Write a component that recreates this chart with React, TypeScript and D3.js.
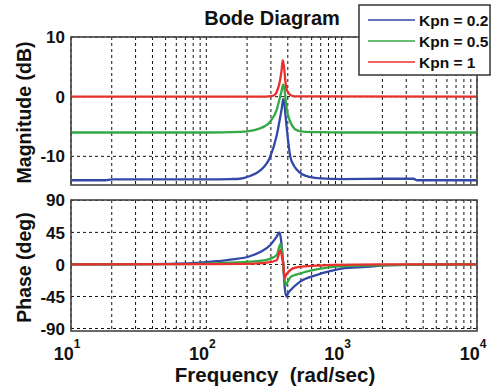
import React from "react";
import * as d3 from "d3";

// ---------- data ----------
const seriesLabels = ["Kpn = 0.2", "Kpn = 0.5", "Kpn = 1"];
const seriesColors = ["#3348a8", "#33a845", "#e8302c"];

// magnitude (dB)
const magFreqBlue = [10, 18, 20, 60, 100, 150, 177, 210, 249, 296, 331, 351, 362, 370, 377, 384, 394, 405, 417, 440, 465, 510, 590, 700, 1000, 2000, 3400, 3600, 10000];
const magBlue = [-14.0, -14.0, -13.85, -13.85, -13.85, -13.8, -13.75, -13.3, -12.4, -10.1, -6.5, -3.5, -1.8, -0.4, -1.0, -3.0, -5.5, -8.0, -10.0, -11.4, -12.2, -13.0, -13.5, -13.7, -13.8, -13.75, -13.75, -14.0, -14.0];

const magFreqGreen = [10, 100, 177, 249, 296, 331, 351, 362, 369, 377, 384, 394, 417, 465, 520, 700, 1000, 10000];
const magGreen = [-6.0, -6.0, -5.9, -5.3, -4.2, -2.2, 0.0, 1.2, 2.0, 1.4, -0.2, -2.2, -4.2, -5.6, -5.85, -5.95, -6.0, -6.0];

const magFreqRed = [10, 250, 300, 320, 331, 351, 360, 367, 375, 384, 394, 417, 450, 10000];
const magRed = [0, 0, 0.1, 0.3, 0.8, 2.8, 4.5, 6.1, 5.0, 2.5, 1.1, 0.3, 0.05, 0];

// phase (deg)
const phFreqBlue = [10, 30, 60, 90, 120, 157, 210, 250, 296, 331, 347, 355, 362, 370, 379, 390, 403, 420, 490, 650, 865, 1000, 1700, 1900, 3000, 10000];
const phBlue = [0, 0.3, 1, 2.5, 4.5, 7, 11.5, 17.5, 27, 39, 45, 37, 22, 0, -31, -45, -40, -36, -24.5, -15, -8.5, -6, -2.8, -1.5, -0.5, 0];

const phFreqGreen = [10, 50, 100, 150, 210, 279, 331, 353, 363, 370, 378, 386, 400, 420, 490, 650, 865, 1500, 3000, 10000];
const phGreen = [0, 0.3, 1, 2.5, 4, 6.5, 13, 29, 18, 0, -20, -29, -24, -17.5, -12.8, -7, -3.5, -1.5, -0.5, 0];

const phFreqRed = [10, 100, 200, 279, 331, 353, 363, 371, 378, 390, 404, 436, 490, 650, 865, 2000, 10000];
const phRed = [0, 0.3, 0.8, 2.4, 6, 20, 10, 0, -19.5, -14, -10.5, -5.6, -3.5, -1.7, -0.5, 0, 0];

const magTicks = [10, 0, -10];
const phaseTicks = [90, 45, 0, -45, -90];
const decadeExps = [1, 2, 3, 4];

// ---------- layout ----------
const W = 492, H = 392;
const X0 = 71, X1 = 477;
const MAG_TOP = 37, MAG_BOT = 185;
const PH_TOP = 200, PH_BOT = 331;
const FONT = "'Liberation Sans', Arial, sans-serif";

const x = d3.scaleLog().domain([10, 10000]).range([X0, X1]);
const yMag = d3.scaleLinear().domain([-14.8, 10]).range([MAG_BOT, MAG_TOP]);
const yPh = d3.scaleLinear().domain([-93.5, 90.5]).range([PH_BOT, PH_TOP]);

const gridFreqs: number[] = [];
[10, 100, 1000].forEach((d) => {
  for (let k = 1; k <= 9; k++) gridFreqs.push(d * k);
});
gridFreqs.push(10000);

function mkLine(y: d3.ScaleLinear<number, number>) {
  return d3
    .line<[number, number]>()
    .x((d) => x(d[0]))
    .y((d) => y(d[1]))
    .curve(d3.curveMonotoneX);
}

const magSeries: [number[], number[]][] = [
  [magFreqBlue, magBlue],
  [magFreqGreen, magGreen],
  [magFreqRed, magRed],
];
const phSeries: [number[], number[]][] = [
  [phFreqBlue, phBlue],
  [phFreqGreen, phGreen],
  [phFreqRed, phRed],
];

function Panel({ top, bot, y, ticks, series }: any) {
  const line = mkLine(y);
  return (
    <g>
      <rect x={X0} y={top} width={X1 - X0} height={bot - top} fill="#fff" />
      {gridFreqs.map((f, i) => (
        <line key={"v" + i} x1={x(f)} x2={x(f)} y1={top} y2={bot} stroke="#111" strokeWidth={1} strokeDasharray="3,3" />
      ))}
      {ticks.map((t: number, i: number) => (
        <line key={"h" + i} x1={X0} x2={X1} y1={y(t)} y2={y(t)} stroke="#111" strokeWidth={1} strokeDasharray="3,3" />
      ))}
      {series.map((s: [number[], number[]], i: number) => (
        <path
          key={"s" + i}
          d={line(s[0].map((f, j) => [f, s[1][j]] as [number, number])) || ""}
          fill="none"
          stroke={seriesColors[i]}
          strokeWidth={2.3}
          strokeLinejoin="round"
        />
      ))}
      <rect x={X0} y={top} width={X1 - X0} height={bot - top} fill="none" stroke="#444" strokeWidth={1.6} />
      {ticks.map((t: number, i: number) => (
        <text key={"t" + i} x={65} y={y(t)} dy="0.36em" textAnchor="end" fontSize={17} fontWeight="bold" fontFamily={FONT} fill="#111">
          {t}
        </text>
      ))}
    </g>
  );
}

export default function App() {
  return (
    <svg width={W} height={H} style={{ position: "absolute", left: 0, top: 0, background: "#fff" }}>
      <rect x={0} y={0} width={W} height={H} fill="#fff" />
      <text x={272} y={25} textAnchor="middle" fontSize={20} fontWeight="bold" fontFamily={FONT} fill="#111">
        Bode Diagram
      </text>
      <Panel top={MAG_TOP} bot={MAG_BOT} y={yMag} ticks={magTicks} series={magSeries} />
      <Panel top={PH_TOP} bot={PH_BOT} y={yPh} ticks={phaseTicks} series={phSeries} />

      <text transform={`translate(31,${(40 + 185) / 2}) rotate(-90)`} textAnchor="middle" fontSize={19.5} fontWeight="bold" fontFamily={FONT} fill="#111">
        Magnitude (dB)
      </text>
      <text transform={`translate(31,${(212 + 323) / 2}) rotate(-90)`} textAnchor="middle" fontSize={19.5} fontWeight="bold" fontFamily={FONT} fill="#111">
        Phase (deg)
      </text>

      {decadeExps.map((e) => (
        <text key={e} x={x(Math.pow(10, e)) - 4} y={360} textAnchor="middle" fontSize={18} fontWeight="bold" fontFamily={FONT} fill="#111">
          10
          <tspan fontSize={12} dy={-12}>{e}</tspan>
        </text>
      ))}
      <text x={275} y={382} textAnchor="middle" fontSize={20.5} fontWeight="bold" fontFamily={FONT} fill="#111" style={{ whiteSpace: "pre" }}>
        {"Frequency  (rad/sec)"}
      </text>

      {/* legend */}
      <g>
        <rect x={359} y={5} width={131} height={70} fill="#fff" stroke="#333" strokeWidth={1.5} />
        {seriesLabels.map((lab, i) => {
          const yy = 20 + i * 21;
          return (
            <g key={lab}>
              <line x1={368} x2={415} y1={yy} y2={yy} stroke={seriesColors[i]} strokeWidth={1.3} />
              <text x={419} y={yy + 5.5} fontSize={15.5} fontWeight="bold" fontFamily={FONT} fill="#111">
                {lab}
              </text>
            </g>
          );
        })}
      </g>
    </svg>
  );
}
